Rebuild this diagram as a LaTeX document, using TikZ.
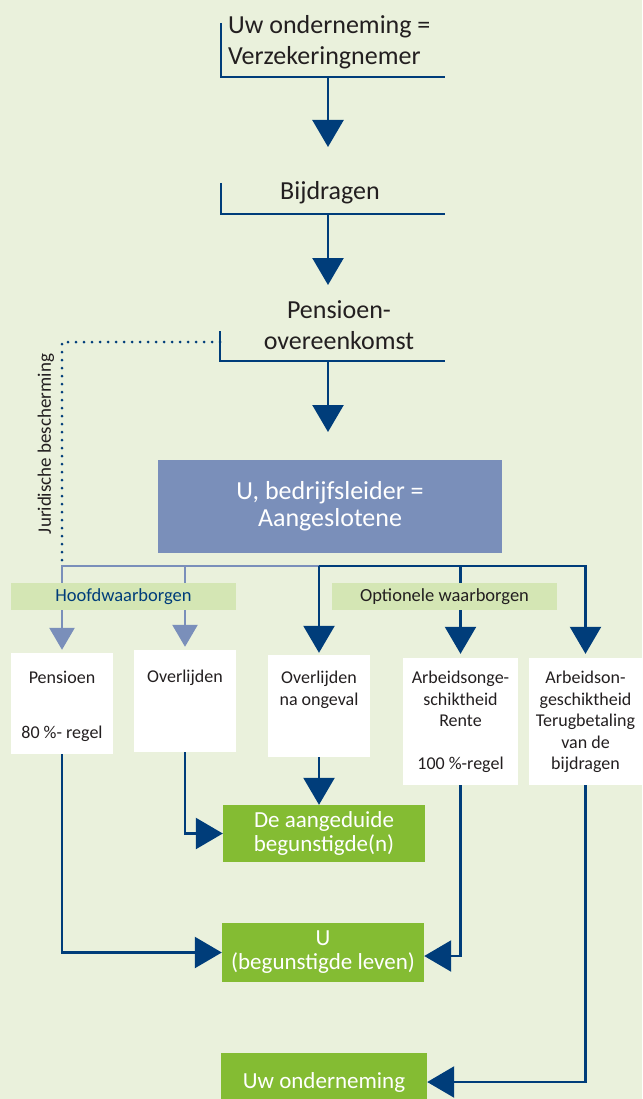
\documentclass[tikz,border=0pt]{standalone}
\usepackage{fontspec}
\setmainfont{Carlito}
\usetikzlibrary{arrows.meta,positioning}

\definecolor{bgcol}{RGB}{234,241,220}
\definecolor{navy}{RGB}{0,61,122}
\definecolor{lightnavy}{RGB}{122,143,186}
\definecolor{taggreen}{RGB}{212,230,180}
\definecolor{leafgreen}{RGB}{132,188,51}
\definecolor{inkgray}{RGB}{35,31,32}

\tikzset{
  bigtxt/.style={font=\fontsize{26}{31}\selectfont, text=inkgray, align=center, inner sep=0pt},
  darkline/.style={draw=navy, line width=2.4pt},
  lightline/.style={draw=lightnavy, line width=2.6pt},
  darkarrow/.style={darkline, -{Triangle[width=31pt,length=27pt]}},
  lightarrow/.style={lightline, -{Triangle[width=25pt,length=22pt]}},
  dotline/.style={draw=navy, line width=3pt, line cap=round, dash pattern=on 0pt off 8pt},
  whitebox/.style={fill=white, inner sep=0pt},
  greenbox/.style={fill=leafgreen, text=white, font=\fontsize{23}{24}\selectfont, align=center, inner sep=0pt, minimum width=202pt},
  tagbox/.style={fill=taggreen, font=\fontsize{18.5}{20}\selectfont, inner sep=0pt, minimum width=225pt, minimum height=27pt},
  boxtxt/.style={font=\fontsize{18}{21.5}\selectfont, text=inkgray, align=center, anchor=north, inner sep=0pt},
}

\begin{document}
\begin{tikzpicture}[x=1pt, y=-1pt]
  % background
  \fill[bgcol] (0,0) rectangle (642,1099);
  \useasboundingbox (0,0) rectangle (642,1099);
  \clip (0,0) rectangle (642,1099);

  % top chain
  \node[bigtxt, align=left, anchor=west] (nemer) at (228,42) {Uw onderneming =\\Verzekeringnemer};
  \draw[darkline] (221,23) |- (445,77);
  \coordinate (nemerfoot) at (328,77);
  \coordinate (bijdrtip) at (328,147);
  \draw[darkarrow] (nemerfoot) -- (bijdrtip);

  \node[bigtxt] (bijdr) at (330,193) {Bijdragen};
  \draw[darkline] (221,183) |- (445,214);
  \coordinate (bijdrfoot) at (328,214);
  \coordinate (ovktip) at (328,285);
  \draw[darkarrow] (bijdrfoot) -- (ovktip);

  \node[bigtxt] (ovk) at (339,325) {Pensioen-\\overeenkomst};
  \draw[darkline] (220,331) |- (445,361);
  \coordinate (ovkfoot) at (328,361);
  \coordinate (leidertip) at (328,432);
  \draw[darkarrow] (ovkfoot) -- (leidertip);

  % aangeslotene
  \node[fill=lightnavy, text=white, font=\fontsize{26}{27}\selectfont, align=center,
        minimum width=344pt, minimum height=93pt] (leider) at (330,506.5) {U, bedrijfsleider =\\Aangeslotene};

  % waarborgen
  \node[whitebox, minimum width=102pt, minimum height=101pt] (pens) at (62,703.5) {};
  \node[whitebox, minimum width=102pt, minimum height=102pt] (overl) at (185,701) {};
  \node[whitebox, minimum width=102pt, minimum height=102pt] (ongev) at (319,706) {};
  \node[whitebox, minimum width=115pt, minimum height=127pt] (rente) at (460.5,721.5) {};
  \node[whitebox, minimum width=113pt, minimum height=127pt] (terug) at (585.5,721.5) {};

  \node[boxtxt, below=18pt of pens.north] {Pensioen\\[34pt]80 \%- regel};
  \node[boxtxt, below=20pt of overl.north] {Overlijden};
  \node[boxtxt, below=16pt of ongev.north] {Overlijden\\na ongeval};
  \node[boxtxt, below=13pt of rente.north] {Arbeidsonge-\\schiktheid\\Rente\\[21pt]100 \%-regel};
  \node[boxtxt, below=13pt of terug.north] {Arbeidson-\\geschiktheid\\Terugbetaling\\van de\\bijdragen};

  % juridische bescherming
  \coordinate (juri) at (220,342);
  \coordinate (fork) at (319,566);
  \draw[dotline] (juri) -| (pens.north |- fork);
  \node[rotate=90, font=\fontsize{19}{20}\selectfont, text=inkgray] (juritxt) at (46,444) {Juridische bescherming};

  % branches
  \draw[lightarrow, shorten >=3pt] (fork) -| (pens.north);
  \draw[lightarrow, shorten >=3pt] (overl.north |- fork) -- (overl.north);
  \draw[darkarrow, shorten >=2pt] (fork) -- (ongev.north);
  \draw[darkarrow, shorten >=4pt] (rente.north |- fork) -- (rente.north);
  \draw[darkarrow, shorten >=4pt] (fork) -| (terug.north);

  \node[tagbox, text=navy] (hoofd) at (123.5,596.5) {Hoofdwaarborgen};
  \node[tagbox, text=inkgray] (optie) at (444.5,596.5) {Optionele waarborgen};

  % begunstigden
  \node[greenbox, minimum height=57pt] (aang) at (324,833.5) {De aangeduide\\begunstigde(n)};
  \node[greenbox, minimum height=59pt] (ubeg) at (323,952.5) {U\\(begunstigde leven)};
  \node[greenbox, minimum width=206pt, minimum height=58pt] (uwond) at (324,1082) {Uw onderneming};

  \draw[darkarrow] (pens.south) |- (ubeg.west);
  \draw[darkarrow] (overl.south) |- (aang.west);
  \draw[darkarrow] (ongev.south) -- (ongev.south |- aang.north);
  \draw[darkarrow] (rente.south) |- ([yshift=-3.5pt]ubeg.east);
  \draw[darkarrow] (terug.south) |- (uwond.east);
\end{tikzpicture}
\end{document}
